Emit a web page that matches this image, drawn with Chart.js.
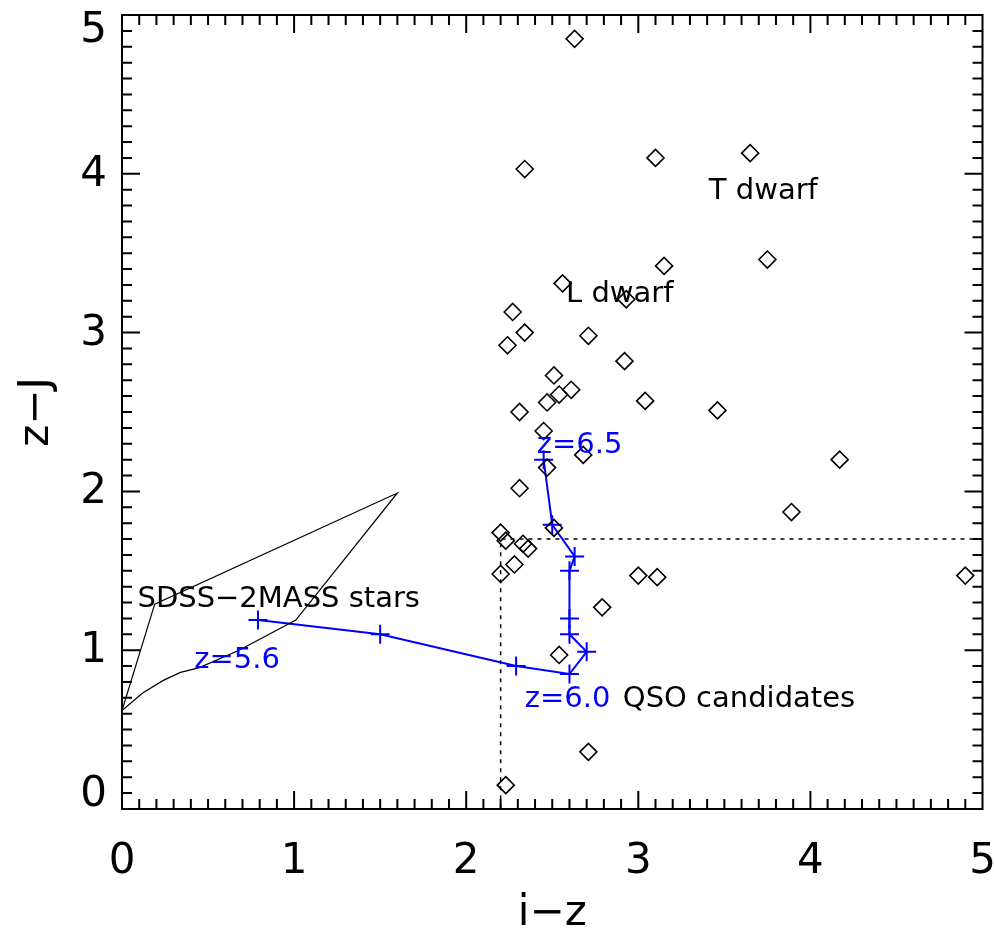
<!DOCTYPE html>
<html>
<head>
<meta charset="utf-8">
<script src="https://cdn.jsdelivr.net/npm/chart.js@4.4.1/dist/chart.umd.min.js"></script>
<style>
  html, body { margin: 0; padding: 0; background: #fff; }
</style>
</head>
<body>
<canvas id="ccPlot" width="994" height="931"></canvas>
<script>
// --- candidates (i-z, z-J) ---
const candIz = [2.63, 2.34, 3.10, 3.65, 3.15, 3.75, 2.56, 2.93, 2.27, 2.34,
                2.24, 2.71, 2.92, 2.51, 2.61, 2.54, 2.47, 3.04, 2.31, 2.45,
                2.68, 2.47, 2.31, 3.46, 4.17, 3.89, 4.90, 3.00, 3.11, 2.20,
                2.23, 2.33, 2.36, 2.51, 2.28, 2.20, 2.79, 2.54, 2.71, 2.23];
const candZj = [4.85, 4.03, 4.10, 4.13, 3.42, 3.46, 3.31, 3.21, 3.13, 3.00,
                2.92, 2.98, 2.82, 2.73, 2.64, 2.61, 2.56, 2.57, 2.50, 2.38,
                2.23, 2.15, 2.02, 2.51, 2.20, 1.87, 1.47, 1.47, 1.46, 1.74,
                1.69, 1.67, 1.64, 1.77, 1.54, 1.48, 1.27, 0.97, 0.36, 0.15];

// --- QSO redshift track, z=5.6 -> z=6.5 ---
const trackIz = [0.79, 1.50, 2.29, 2.60, 2.70, 2.60, 2.60, 2.60, 2.63, 2.50, 2.45];
const trackZj = [1.19, 1.10, 0.90, 0.85, 0.99, 1.10, 1.20, 1.50, 1.59, 1.79, 2.20];

// --- SDSS-2MASS stellar locus outline ---
const locusIz = [0.00, 0.19, 1.60, 1.01, 0.68, 0.45, 0.34, 0.24, 0.12, 0.00];
const locusZj = [0.62, 1.29, 1.99, 1.19, 1.00, 0.89, 0.86, 0.81, 0.73, 0.62];

// --- selection cut ---
const cutIz = [5.0, 2.2, 2.2];
const cutZj = [1.7, 1.7, 0.0];

const xTicks = [0, 1, 2, 3, 4, 5];
const yTicks = [0, 1, 2, 3, 4, 5];

// text notes, anchored at left/baseline in data units
const notes = [
  { text: 'T dwarf', iz: 3.41, zj: 3.84, color: '#000' },
  { text: 'L dwarf', iz: 2.58, zj: 3.19, color: '#000' },
  { text: 'SDSS\u22122MASS stars', iz: 0.09, zj: 1.27, color: '#000' },
  { text: 'QSO candidates', iz: 2.91, zj: 0.64, color: '#000' },
  { text: 'z=6.0', iz: 2.34, zj: 0.64, color: '#0000ff' },
  { text: 'z=6.5', iz: 2.41, zj: 2.24, color: '#0000ff' },
  { text: 'z=5.6', iz: 0.42, zj: 0.89, color: '#0000ff' }
];

const toXY = (xs, ys) => xs.map((v, i) => ({ x: v, y: ys[i] }));
const FONT = '"DejaVu Sans", sans-serif';

// box with inward ticks (IDL style), y labels kept inside the canvas, text notes
const framePlugin = {
  id: 'frame',
  afterDatasetsDraw(chart) {
    const { ctx, chartArea: a, scales: { x, y } } = chart;
    ctx.save();
    ctx.strokeStyle = '#000';
    ctx.lineWidth = 2;
    ctx.strokeRect(a.left, a.top, a.right - a.left, a.bottom - a.top);
    ctx.beginPath();
    for (let i = 1; i < 50; i++) {
      const v = i / 10;
      const len = i % 10 === 0 ? 18 : 10;
      const px = x.getPixelForValue(v);
      const py = y.getPixelForValue(v);
      ctx.moveTo(px, a.bottom); ctx.lineTo(px, a.bottom - len);
      ctx.moveTo(px, a.top); ctx.lineTo(px, a.top + len);
      ctx.moveTo(a.left, py); ctx.lineTo(a.left + len, py);
      ctx.moveTo(a.right, py); ctx.lineTo(a.right - len, py);
    }
    ctx.stroke();

    // y tick labels, end labels pulled inside like IDL does
    ctx.fillStyle = '#000';
    ctx.font = '42px ' + FONT;
    ctx.textAlign = 'right';
    ctx.textBaseline = 'middle';
    yTicks.forEach(v => {
      const py = Math.min(Math.max(y.getPixelForValue(v), a.top + 15), a.bottom - 15);
      ctx.fillText(String(v), a.left - 15, py + 1);
    });

    ctx.font = '29px ' + FONT;
    ctx.textBaseline = 'alphabetic';
    ctx.textAlign = 'left';
    notes.forEach(n => {
      ctx.fillStyle = n.color;
      ctx.fillText(n.text, x.getPixelForValue(n.iz), y.getPixelForValue(n.zj));
    });
    ctx.restore();
  }
};

new Chart(document.getElementById('ccPlot').getContext('2d'), {
  type: 'scatter',
  data: {
    datasets: [
      {
        label: 'candidates',
        data: toXY(candIz, candZj),
        pointStyle: 'rectRot',
        pointRadius: 8.5,
        borderColor: '#000',
        backgroundColor: 'rgba(0,0,0,0)',
        borderWidth: 1.6
      },
      {
        label: 'stars',
        data: toXY(locusIz, locusZj),
        showLine: true,
        borderColor: '#000',
        borderWidth: 1.2,
        pointRadius: 0
      },
      {
        label: 'track',
        data: toXY(trackIz, trackZj),
        showLine: true,
        borderColor: '#0000ff',
        borderWidth: 2,
        pointStyle: 'cross',
        pointRadius: 9.5,
        pointBorderWidth: 2,
        pointBorderColor: '#0000ff'
      },
      {
        label: 'cut',
        data: toXY(cutIz, cutZj),
        showLine: true,
        borderColor: '#000',
        borderWidth: 1.5,
        borderDash: [4, 5],
        pointRadius: 0
      }
    ]
  },
  options: {
    responsive: false,
    animation: false,
    layout: { padding: { top: 15, right: 9, left: 0, bottom: 0 } },
    plugins: { legend: { display: false }, tooltip: { enabled: false } },
    scales: {
      x: {
        type: 'linear', min: 0, max: 5,
        afterBuildTicks: s => { s.ticks = xTicks.map(v => ({ value: v })); },
        afterFit: s => { s.height = 122; s.paddingLeft = 0; s.paddingRight = 0; },
        grid: { display: false, drawTicks: false },
        border: { display: false },
        ticks: { color: '#000', padding: 28, maxRotation: 0, font: { family: FONT, size: 42 } },
        title: {
          display: true, text: 'i\u2212z', color: '#000',
          font: { family: FONT, size: 42, lineHeight: 1 },
          padding: { top: 0, bottom: -4 }
        }
      },
      y: {
        type: 'linear', min: 0, max: 5,
        afterBuildTicks: s => { s.ticks = yTicks.map(v => ({ value: v })); },
        afterFit: s => { s.width = 122; s.paddingTop = 0; s.paddingBottom = 0; },
        grid: { display: false, drawTicks: false },
        border: { display: false },
        ticks: { display: false },
        title: {
          display: true, text: 'z\u2212J', color: '#000',
          font: { family: FONT, size: 42, lineHeight: 1 },
          padding: { top: 16, bottom: 0 }
        }
      }
    }
  },
  plugins: [framePlugin]
});
</script>
</body>
</html>
